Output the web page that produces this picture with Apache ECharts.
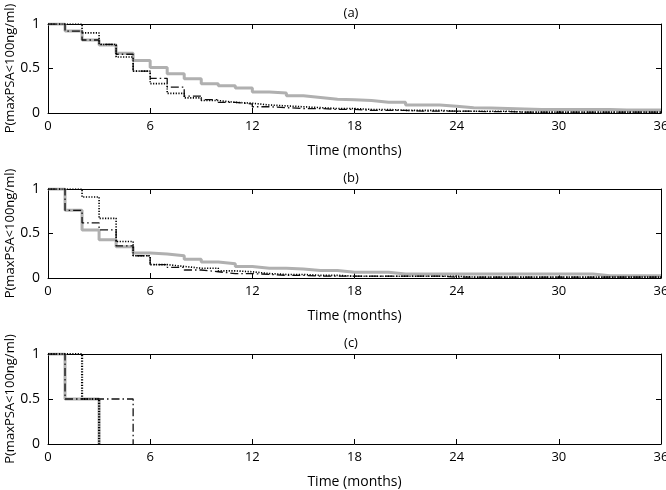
<!DOCTYPE html>
<html>
<head>
<meta charset="utf-8">
<script src="https://cdn.jsdelivr.net/npm/echarts@6/dist/echarts.min.js"></script>
<style>html,body{margin:0;padding:0;background:#fff}#c{width:666px;height:490px}</style>
</head>
<body>
<div id="c"></div>
<script>
const months = [0,1,2,3,4,5,6,7,8,9,10,11,12,13,14,15,16,17,18,19,20,21,22,23,24,25,26,27,28,29,30,31,32,33,34,35,36];
const xTicks = [0,6,12,18,24,30,36];
const yTicks = [0,0.5,1];
const panelTitles = ['(a)','(b)','(c)'];

// Panel (a)
const aSolid   = [1,0.92,0.82,0.765,0.67,0.59,0.51,0.44,0.385,0.33,0.305,0.28,0.235,0.225,0.195,0.175,0.155,0.15,0.14,0.12,0.12,0.09,0.09,0.075,0.06,0.055,0.05,0.045,0.04,0.04,0.04,0.04,0.04,0.035,0.035,0.035,0.035];
const aDotted  = [1,1,0.90,0.77,0.63,0.47,0.33,0.22,0.17,0.14,0.12,0.11,0.09,0.08,0.07,0.06,0.05,0.05,0.04,0.04,0.03,0.03,0.03,0.02,0.02,0.02,0.02,0.01,0.01,0.01,0.01,0.01,0.01,0.01,0.01,0.01,0.01];
const aDashDot = [1,0.92,0.82,0.77,0.66,0.47,0.39,0.29,0.19,0.15,0.12,0.10,0.07,0.06,0.05,0.05,0.04,0.04,0.03,0.03,0.03,0.02,0.02,0.02,0.02,0.015,0.015,0.01,0.01,0.01,0.01,0.01,0.01,0.01,0.01,0.01,0.01];

// Panel (b)
const bSolid   = [1,0.76,0.54,0.43,0.35,0.28,0.27,0.25,0.21,0.18,0.16,0.13,0.11,0.11,0.10,0.085,0.085,0.065,0.065,0.065,0.045,0.045,0.045,0.045,0.045,0.045,0.045,0.045,0.045,0.045,0.045,0.045,0.025,0.025,0.025,0.025,0.025];
const bDotted  = [1,1,0.91,0.67,0.41,0.25,0.15,0.13,0.11,0.11,0.08,0.07,0.05,0.04,0.04,0.03,0.03,0.02,0.02,0.02,0.02,0.02,0.02,0.02,0.01,0.01,0.01,0.01,0.01,0.01,0.01,0.01,0.01,0.01,0.01,0.01,0.01];
const bDashDot = [1,0.76,0.62,0.54,0.36,0.25,0.15,0.12,0.09,0.07,0.05,0.05,0.04,0.03,0.03,0.02,0.02,0.02,0.02,0.02,0.02,0.02,0.02,0.01,0.01,0.01,0.01,0.01,0.01,0.01,0.01,0.01,0.01,0.01,0.01,0.01,0.01];

// Panel (c)
const cSolidT   = [0,1,3];
const cSolid    = [1,0.5,0];
const cDottedT  = [0,2,3];
const cDotted   = [1,0.5,0];
const cDashDotT = [0,1,5];
const cDashDot  = [1,0.5,0];

const FONT = '"Open Sans", "Noto Sans", sans-serif';
const grids = [
  {left:48, right:5, top:24, height:89, containLabel:false, outerBoundsMode:'none'},
  {left:48, right:5, top:189, height:89, containLabel:false, outerBoundsMode:'none'},
  {left:48, right:5, top:354, height:90, containLabel:false, outerBoundsMode:'none'}
];
const zip = (t, v) => t.map((x, i) => [x, v[i]]);

const xAxes = [], yAxes = [], series = [], graphics = [];
grids.forEach((g, i) => {
  const common = {
    gridIndex: i, type: 'value', min: 0, max: 36, interval: 6,
    axisLine: {show: true, onZero: false, lineStyle: {color: '#000', width: 1}},
    axisTick: {show: true, inside: true, length: 5, lineStyle: {color: '#000'}},
    splitLine: {show: false}
  };
  xAxes.push(Object.assign({}, common, {
    position: 'bottom',
    axisLabel: {show: true, color: '#000', fontSize: 13, fontFamily: FONT, margin: 7},
    name: 'Time (months)', nameLocation: 'middle', nameGap: 31,
    nameTextStyle: {color: '#000', fontSize: 14, fontFamily: FONT}
  }));
  xAxes.push(Object.assign({}, common, {position: 'top', axisLabel: {show: false}}));
  const ycommon = {
    gridIndex: i, type: 'value', min: 0, max: 1, interval: 0.5,
    axisLine: {show: true, onZero: false, lineStyle: {color: '#000', width: 1}},
    axisTick: {show: true, inside: true, length: 5, lineStyle: {color: '#000'}},
    splitLine: {show: false}
  };
  yAxes.push(Object.assign({}, ycommon, {
    position: 'left',
    axisLabel: {show: true, color: '#000', fontSize: 14, fontFamily: FONT, margin: 8},
    name: 'P(maxPSA<100ng/ml)', nameLocation: 'middle', nameGap: 31,
    nameMoveOverlap: false,
    nameTextStyle: {color: '#000', fontSize: 13, fontFamily: FONT}
  }));
  yAxes.push(Object.assign({}, ycommon, {position: 'right', axisLabel: {show: false}}));
  graphics.push({
    type: 'text', x: 351, y: g.top - 11,
    style: {text: panelTitles[i], textAlign: 'center', textVerticalAlign: 'middle',
            font: '13px ' + FONT, fill: '#000'}
  });
});

function addPanel(i, solid, dashdot, dotted, dottedWidth) {
  const base = {type: 'line', step: 'end', showSymbol: false, symbol: 'none',
                xAxisIndex: 2 * i, yAxisIndex: 2 * i, animation: false, clip: true};
  series.push(Object.assign({}, base, {data: solid,
    lineStyle: {color: '#b0b0b0', width: 3, type: 'solid'}}));
  series.push(Object.assign({}, base, {data: dashdot,
    lineStyle: {color: '#111', width: 1.3, type: [8, 3, 1.5, 3]}}));
  series.push(Object.assign({}, base, {data: dotted,
    lineStyle: {color: '#000', width: dottedWidth, type: [1.2, 1.5]}}));
}
addPanel(0, zip(months, aSolid), zip(months, aDashDot), zip(months, aDotted), 1.6);
addPanel(1, zip(months, bSolid), zip(months, bDashDot), zip(months, bDotted), 1.6);
addPanel(2, zip(cSolidT, cSolid), zip(cDashDotT, cDashDot), zip(cDottedT, cDotted), 2.2);

const chart = echarts.init(document.getElementById('c'), null, {renderer: 'canvas'});
chart.setOption({
  animation: false,
  backgroundColor: '#fff',
  grid: grids,
  xAxis: xAxes,
  yAxis: yAxes,
  series: series,
  graphic: graphics
});
</script>
</body>
</html>
